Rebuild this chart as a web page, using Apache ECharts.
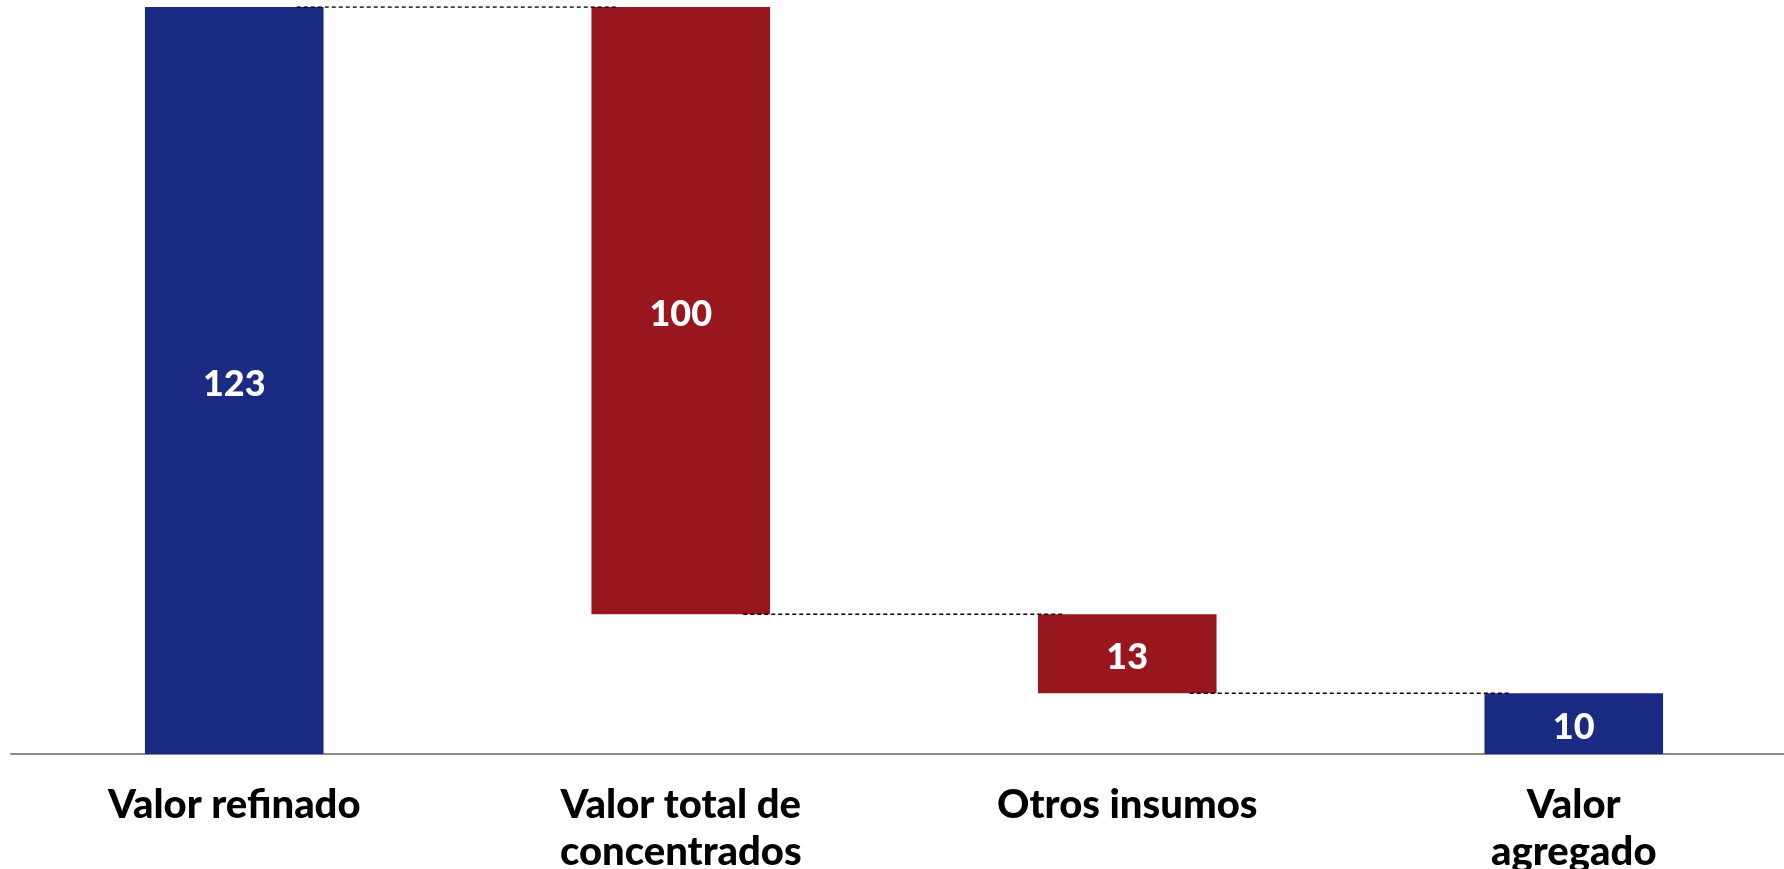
<!DOCTYPE html>
<html>
<head>
<meta charset="utf-8">
<script src="https://cdn.jsdelivr.net/npm/echarts@6/dist/echarts.min.js"></script>
<style>
  html, body { margin: 0; padding: 0; background: #fff; }
  #chart { width: 1784px; height: 869px; }
</style>
</head>
<body>
<div id="chart"></div>
<script>
// waterfall data
const categories = ['Valor refinado', 'Valor total de\nconcentrados', 'Otros insumos', 'Valor\nagregado']
const values = [123, 100, 13, 10]
const kinds = ['total', 'minus', 'minus', 'total']

const BLUE = '#1b2a82'
const RED = '#98161e'

// invisible base + running level after each step
const bases = []
const levels = []
let running = 0
values.forEach((v, i) => {
  if (kinds[i] === 'total') {
    running = v
    bases.push(0)
  } else {
    running -= v
    bases.push(running)
  }
  levels.push(running)
})

// dashed connectors between neighbouring bars
const overhang = 0.14
const connectors = levels.slice(0, -1).map((lv, i) => ({
  type: 'line',
  xAxisIndex: 1,
  symbol: 'none',
  silent: true,
  z: 5,
  lineStyle: { color: '#000', width: 1.4, type: [4, 3] },
  data: [[i + overhang, lv], [i + 1 - overhang, lv]]
}))

const chart = echarts.init(document.getElementById('chart'))
chart.setOption({
  animation: false,
  grid: { left: 11, width: 1786, top: 7, bottom: 115, outerBoundsMode: 'none', containLabel: false },
  xAxis: [
    {
      type: 'category',
      data: categories,
      axisTick: { show: false },
      axisLine: { lineStyle: { color: '#8a8a8a', width: 2 } },
      axisLabel: {
        margin: 28,
        color: '#000',
        fontSize: 40,
        fontWeight: 900,
        fontFamily: 'Lato',
        lineHeight: 47,
        interval: 0
      }
    },
    { type: 'value', min: -0.5, max: 3.5, show: false }
  ],
  yAxis: { type: 'value', min: 0, max: 123, show: false },
  series: [
    {
      type: 'bar',
      stack: 'wf',
      barWidth: '40%',
      itemStyle: { color: 'transparent' },
      data: bases
    },
    {
      type: 'bar',
      stack: 'wf',
      barWidth: '40%',
      data: values.map((v, i) => ({
        value: v,
        itemStyle: { color: kinds[i] === 'total' ? BLUE : RED }
      })),
      label: {
        show: true,
        position: 'inside',
        offset: [0, 4],
        color: '#fff',
        fontSize: 36,
        fontWeight: 900,
        fontFamily: 'Lato'
      }
    },
    ...connectors
  ]
})
</script>
</body>
</html>
